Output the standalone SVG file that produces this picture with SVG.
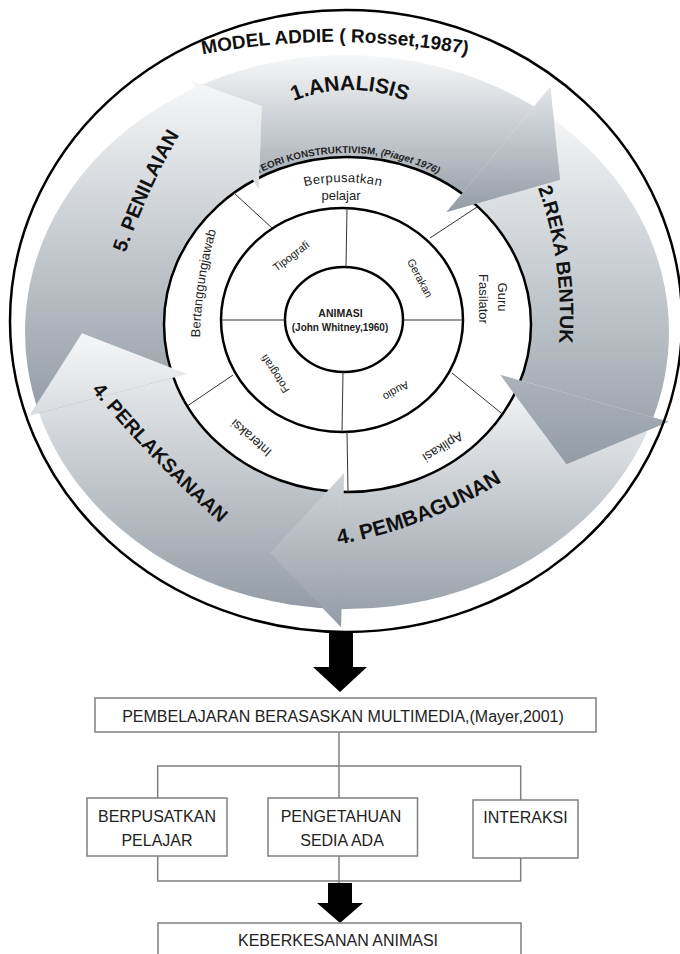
<svg xmlns="http://www.w3.org/2000/svg" width="680" height="954" viewBox="0 0 680 954">
<defs>
  <linearGradient id="gBase">
    <stop offset="0" stop-color="#f6f7f8"/>
    <stop offset="1" stop-color="#939ca5"/>
  </linearGradient>
  <linearGradient id="gA" href="#gBase" gradientUnits="userSpaceOnUse" x1="0" y1="-322" x2="0" y2="-139"/>
  <linearGradient id="gR" href="#gBase" gradientUnits="userSpaceOnUse" x1="0" y1="-262" x2="0" y2="154"/>
  <linearGradient id="gP" href="#gBase" gradientUnits="userSpaceOnUse" x1="0" y1="54" x2="0" y2="343"/>
  <linearGradient id="gL" href="#gBase" gradientUnits="userSpaceOnUse" x1="0" y1="1" x2="0" y2="322"/>
  <linearGradient id="gN" href="#gBase" gradientUnits="userSpaceOnUse" x1="0" y1="-292" x2="0" y2="94"/>
  <path id="pA" d="M 264 117.1 A 150 150 0 0 1 436 117.1" fill="none"/>
  <path id="pR" d="M 538 188 A 391 391 0 0 1 559 343" fill="none"/>
  <path id="pP" d="M 335 545 A 470 470 0 0 0 505 480" fill="none"/>
  <path id="pL" d="M 90 388 Q 150 460 222 525" fill="none"/>
  <path id="pN" d="M 125 254 Q 148 188 180 134" fill="none"/>
  <path id="pM" d="M 150 66.9 A 700 700 0 0 1 520 66.9" fill="none"/>
  <path id="pT" d="M 193.5 226.1 A 188 171.5 0 0 1 501.5 226.1" fill="none"/>
  <path id="pB" d="M 207.9 253.25 A 156 142.5 0 0 1 478.1 253.25" fill="none"/>
  <path id="pBT" d="M 200 340 Q 201 283 217 228" fill="none"/>
</defs>
<style>
  .f{font-family:"Liberation Sans",Arial,sans-serif}
  .lbl{font-family:"Liberation Sans",Arial,sans-serif;font-weight:bold;fill:#111;text-anchor:middle}
  .rl{font-family:"Liberation Sans",Arial,sans-serif;font-size:13px;fill:#222;text-anchor:middle}
  .ml{font-family:"Liberation Sans",Arial,sans-serif;font-size:11px;fill:#222;text-anchor:middle}
  .circ{fill:none;stroke:#000;stroke-width:2.5}
  .div{stroke:#333;stroke-width:1}
  .box{fill:#fff;stroke:#7f7f7f;stroke-width:1.5}
  .bt{font-family:"Liberation Sans",Arial,sans-serif;font-size:16px;fill:#222;text-anchor:middle}
  .conn{fill:none;stroke:#7f7f7f;stroke-width:1.5}
</style>

<rect width="680" height="954" fill="#fff"/>
<ellipse cx="346" cy="321" rx="336" ry="311" fill="#fff"/>

<g id="cycle-arrows" transform="translate(347 332) scale(1 0.86)">
  <path id="arrow-analisis" fill="url(#gA)" d="M -151.17 -284.31 A 322 322 0 0 1 186.99 -262.15 L 203.25 -284.94 L 213.12 -176.94 L 99.30 -139.21 L 101.62 -142.47 A 175 175 0 0 0 -82.16 -154.52 Z"/>
  <path id="arrow-reka" fill="url(#gR)" d="M 186.99 -262.15 A 322 322 0 0 1 306.24 99.50 L 321.46 104.45 L 219.53 153.72 L 153.12 49.75 L 166.44 54.08 A 175 175 0 0 0 101.62 -142.47 Z"/>
  <path id="arrow-pembagunan" fill="url(#gP)" d="M 306.24 99.50 A 322 322 0 0 1 -5.62 321.95 L -5.99 342.95 L -77.01 256.70 L -2.86 163.98 L -3.05 174.97 A 175 175 0 0 0 166.44 54.08 Z"/>
  <path id="arrow-perlaksanaan" fill="url(#gL)" d="M -5.62 321.95 A 322 322 0 0 1 -307.93 94.14 L -317.49 97.07 L -265.00 1.39 L -159.70 48.83 L -167.35 51.16 A 175 175 0 0 0 -3.05 174.97 Z"/>
  <path id="arrow-penilaian" fill="url(#gN)" d="M -307.93 94.14 A 322 322 0 0 1 -151.17 -284.31 L -155.39 -292.26 L -85.29 -262.49 L -88.26 -166.00 L -82.16 -154.52 A 175 175 0 0 0 -167.35 51.16 Z"/>
</g>

<g id="ring">
  <ellipse cx="347.5" cy="324.5" rx="183.5" ry="167.5" fill="#fff" stroke="#000" stroke-width="2.5"/>
  <ellipse class="circ" cx="342" cy="320" rx="121" ry="112"/>
  <ellipse class="circ" cx="344" cy="319.5" rx="59" ry="52.5"/>
  <g class="div">
    <line x1="347" y1="208" x2="346" y2="267"/>
    <line x1="221" y1="320" x2="285" y2="320"/>
    <line x1="403" y1="320" x2="463" y2="320"/>
    <line x1="343" y1="372" x2="342" y2="432"/>
    <line x1="234" y1="193" x2="272" y2="228"/>
    <line x1="430" y1="238" x2="477" y2="207"/>
    <line x1="452" y1="373" x2="503" y2="414.5"/>
    <line x1="188" y1="405.5" x2="233" y2="375"/>
    <line x1="347" y1="432" x2="348" y2="492"/>
  </g>
</g>

<g id="node-berpusatkan">
  <text class="rl" letter-spacing="0.4"><textPath href="#pB" startOffset="50%">Berpusatkan</textPath></text>
  <text class="rl" x="341" y="199.5">pelajar</text>
</g>
<g id="node-guru"><text class="rl" transform="translate(503 297) rotate(90)" dy="0.35em">Guru</text>
  <text class="rl" transform="translate(484 299) rotate(90)" dy="0.35em">Fasilator</text></g>
<g id="node-aplikasi"><text class="rl" transform="translate(443 447) rotate(148)" dy="0.35em">Aplikasi</text></g>
<g id="node-interaksi"><text class="rl" transform="translate(251 438) rotate(221)" dy="0.35em">Interaksi</text></g>
<g id="node-bertanggungjawab"><text class="rl"><textPath href="#pBT" startOffset="50%">Bertanggungjawab</textPath></text></g>

<g id="node-tipografi"><text class="ml" transform="translate(291 256) rotate(-37)" dy="0.35em">Tipografi</text></g>
<g id="node-gerakan"><text class="ml" transform="translate(420 278) rotate(62)" dy="0.35em">Gerakan</text></g>
<g id="node-audio"><text class="ml" transform="translate(396 391) rotate(150)" dy="0.35em">Audio</text></g>
<g id="node-fotografi"><text class="ml" transform="translate(275 374) rotate(-123)" dy="0.35em">Fotografi</text></g>

<g id="node-animasi">
  <text class="f" x="340.5" y="317" font-size="10.5" font-weight="bold" fill="#222" text-anchor="middle">ANIMASI</text>
  <text class="f" x="340" y="330.5" font-size="10" font-weight="bold" fill="#222" text-anchor="middle">(John Whitney,1960)</text>
</g>

<g id="node-teori">
  <text class="f" font-size="9.8" font-weight="bold" fill="#222" text-anchor="middle"><textPath href="#pT" startOffset="50%">TEORI KONSTRUKTIVISM, <tspan font-style="italic">(Piaget 1976)</tspan></textPath></text>
</g>

<g id="arrow-heads" transform="translate(347 332) scale(1 0.86)">
  <path fill="url(#gA)" d="M 203.25 -284.94 L 213.12 -176.94 L 99.30 -139.21 Z"/>
  <path fill="url(#gR)" d="M 321.46 104.45 L 219.53 153.72 L 153.12 49.75 Z"/>
  <path fill="url(#gP)" d="M -5.99 342.95 L -77.01 256.70 L -2.86 163.98 Z"/>
  <path fill="url(#gL)" d="M -317.49 97.07 L -265.00 1.39 L -159.70 48.83 Z"/>
  <path fill="url(#gN)" d="M -155.39 -292.26 L -85.29 -262.49 L -88.26 -166.00 Z"/>
</g>

<g id="labels-addie">
  <text class="lbl" font-size="21"><textPath href="#pA" startOffset="50%">1.ANALISIS</textPath></text>
  <text class="lbl" font-size="19.5"><textPath href="#pR" startOffset="50%">2.REKA BENTUK</textPath></text>
  <text class="lbl" font-size="21"><textPath href="#pP" startOffset="50%">4. PEMBAGUNAN</textPath></text>
  <text class="lbl" font-size="19.5"><textPath href="#pL" startOffset="50%">4. PERLAKSANAAN</textPath></text>
  <text class="lbl" font-size="20"><textPath href="#pN" startOffset="50%">5. PENILAIAN</textPath></text>
</g>

<g id="node-model-addie">
  <ellipse class="circ" cx="346" cy="321" rx="336" ry="311"/>
  <text class="lbl" font-size="19"><textPath href="#pM" startOffset="50%">MODEL ADDIE ( Rosset,1987)</textPath></text>
</g>

<g id="connectors">
  <polygon points="329,633 353,633 353,667 367,667 340,692 313,667 329,667" fill="#000"/>
  <line class="conn" x1="339" y1="732" x2="339" y2="798"/>
  <polyline class="conn" points="157.7,798 157.7,766 520.7,766 520.7,800"/>
  <polyline class="conn" points="157.7,856 157.7,881 520.7,881 520.7,858"/>
  <line class="conn" x1="339" y1="856" x2="339" y2="884"/>
  <polygon points="328,883 352,883 352,903 363,903 340,923 317,903 328,903" fill="#000"/>
</g>

<g id="node-multimedia">
  <rect class="box" x="95" y="698" width="501" height="34"/>
  <text class="bt" x="343" y="721.5" font-size="17.3">PEMBELAJARAN BERASASKAN MULTIMEDIA,(Mayer,2001)</text>
</g>
<g id="node-berpusatkan-pelajar">
  <rect class="box" x="87" y="798" width="140" height="58"/>
  <text class="bt" x="157" y="821.7">BERPUSATKAN</text>
  <text class="bt" x="157" y="846">PELAJAR</text>
</g>
<g id="node-pengetahuan">
  <rect class="box" x="268" y="798" width="149.5" height="58"/>
  <text class="bt" x="341" y="821.7">PENGETAHUAN</text>
  <text class="bt" x="342" y="846">SEDIA ADA</text>
</g>
<g id="node-interaksi-box">
  <rect class="box" x="473" y="800" width="105" height="58"/>
  <text class="bt" x="525.5" y="823">INTERAKSI</text>
</g>
<g id="node-keberkesanan">
  <rect class="box" x="158" y="923" width="363" height="45"/>
  <text class="bt" x="338" y="945.5" font-size="16.5">KEBERKESANAN ANIMASI</text>
</g>
</svg>
